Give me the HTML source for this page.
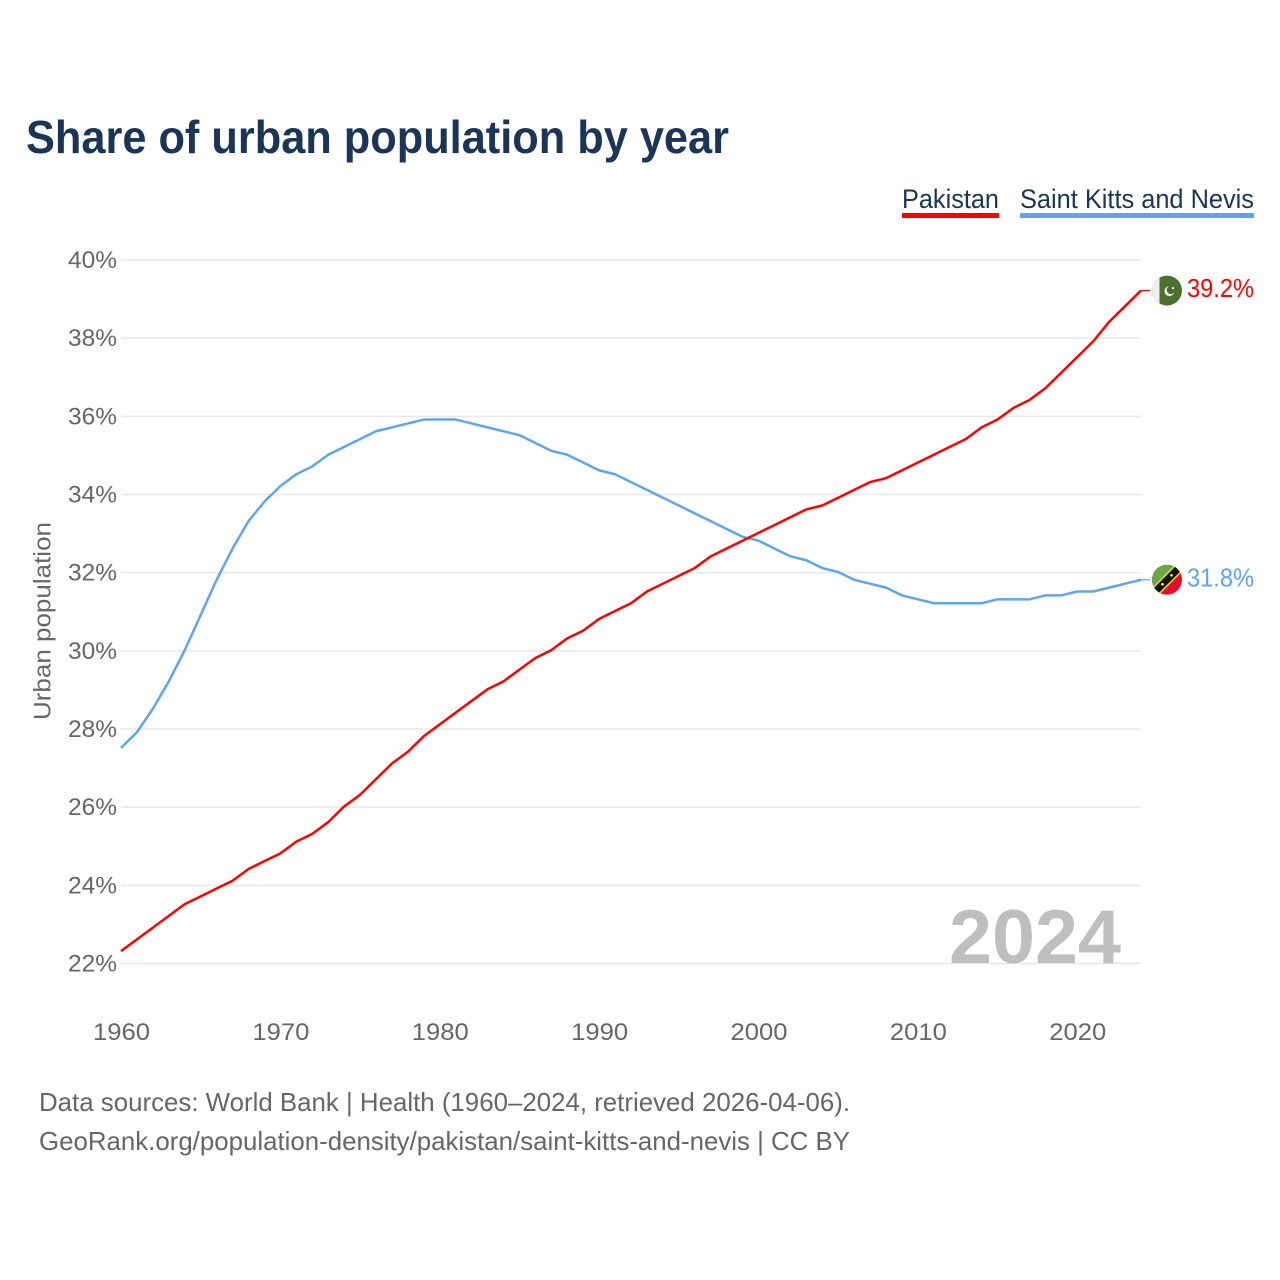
<!DOCTYPE html>
<html lang="en">
<head>
<meta charset="utf-8">
<title>Share of urban population by year</title>
<style>
html,body{margin:0;padding:0;background:#fff;}
svg{display:block;font-family:"Liberation Sans",sans-serif;}
</style>
</head>
<body>
<svg id="chart" width="1280" height="1280" viewBox="0 0 1280 1280" xmlns="http://www.w3.org/2000/svg">
  <defs>
    <clipPath id="flag-clip"><circle cx="0" cy="0" r="15"/></clipPath>
  </defs>
  <rect width="1280" height="1280" fill="#fff"/>
  <text x="26" y="153" font-size="46" font-weight="700" fill="#1a3556" textLength="703" lengthAdjust="spacingAndGlyphs">Share of urban population by year</text>

  <g>
    <g>
      <text x="902" y="208" font-size="27" fill="#1a3556" textLength="97" lengthAdjust="spacingAndGlyphs">Pakistan</text>
      <rect x="902" y="213" width="97" height="5" fill="#ff0000"/>
    </g>
    <g>
      <text x="1020" y="208" font-size="27" fill="#1a3556" textLength="234" lengthAdjust="spacingAndGlyphs">Saint Kitts and Nevis</text>
      <rect x="1020" y="213" width="234" height="5" fill="#5fa5ee"/>
    </g>
  </g>

  <g id="grid"></g>
  <g id="y-labels"></g>
  <g id="x-labels"></g>
  <text transform="translate(50.5 720) rotate(-90)" font-size="24" fill="#666" textLength="198" lengthAdjust="spacingAndGlyphs">Urban population</text>

  <text id="year-watermark" x="949" y="963" font-size="76" font-weight="700" fill="#bfbfbf" textLength="172" lengthAdjust="spacingAndGlyphs">2024</text>

  <g id="series"></g>

  <g id="flag-pakistan">
    <g clip-path="url(#flag-clip)">
      <rect x="-15" y="-15" width="30" height="30" fill="#4c7030"/>
      <rect x="-15" y="-15" width="7.5" height="30" fill="#eeeeee"/>
      <circle cx="2.5" cy="0.5" r="5" fill="#f4f4f4"/>
      <circle cx="4" cy="-0.7" r="4.3" fill="#4c7030"/>
      <circle cx="6" cy="-2.5" r="1.1" fill="#f4f4f4"/>
    </g>
  </g>
  <g id="flag-skn">
    <g clip-path="url(#flag-clip)">
      <rect x="-15" y="-15" width="30" height="30" fill="#df0f32"/>
      <polygon points="-15,-15 15,-15 -15,15" fill="#6ca544"/>
      <line x1="-18" y1="18" x2="18" y2="-18" stroke="#f8d90f" stroke-width="10"/>
      <line x1="-18" y1="18" x2="18" y2="-18" stroke="#111" stroke-width="7"/>
      <circle cx="-4.5" cy="4.5" r="1.3" fill="#fff"/>
      <circle cx="4.5" cy="-4.5" r="1.3" fill="#fff"/>
    </g>
  </g>
  <g id="end-labels"></g>

  <g>
    <text x="39" y="1111" font-size="26" fill="#666" textLength="811" lengthAdjust="spacingAndGlyphs">Data sources: World Bank | Health (1960–2024, retrieved 2026-04-06).</text>
    <text x="39" y="1150" font-size="26" fill="#666" textLength="811" lengthAdjust="spacingAndGlyphs">GeoRank.org/population-density/pakistan/saint-kitts-and-nevis | CC BY</text>
  </g>
</svg>

<script>
const years = [1960,1961,1962,1963,1964,1965,1966,1967,1968,1969,1970,1971,1972,1973,1974,1975,1976,1977,1978,1979,1980,1981,1982,1983,1984,1985,1986,1987,1988,1989,1990,1991,1992,1993,1994,1995,1996,1997,1998,1999,2000,2001,2002,2003,2004,2005,2006,2007,2008,2009,2010,2011,2012,2013,2014,2015,2016,2017,2018,2019,2020,2021,2022,2023,2024];
const pakistanValues = [22.3,22.6,22.9,23.2,23.5,23.7,23.9,24.1,24.4,24.6,24.8,25.1,25.3,25.6,26.0,26.3,26.7,27.1,27.4,27.8,28.1,28.4,28.7,29.0,29.2,29.5,29.8,30.0,30.3,30.5,30.8,31.0,31.2,31.5,31.7,31.9,32.1,32.4,32.6,32.8,33.0,33.2,33.4,33.6,33.7,33.9,34.1,34.3,34.4,34.6,34.8,35.0,35.2,35.4,35.7,35.9,36.2,36.4,36.7,37.1,37.5,37.9,38.4,38.8,39.2];
const saintKittsValues = [27.5,27.9,28.5,29.2,30.0,30.9,31.8,32.6,33.3,33.8,34.2,34.5,34.7,35.0,35.2,35.4,35.6,35.7,35.8,35.9,35.9,35.9,35.8,35.7,35.6,35.5,35.3,35.1,35.0,34.8,34.6,34.5,34.3,34.1,33.9,33.7,33.5,33.3,33.1,32.9,32.8,32.6,32.4,32.3,32.1,32.0,31.8,31.7,31.6,31.4,31.3,31.2,31.2,31.2,31.2,31.3,31.3,31.3,31.4,31.4,31.5,31.5,31.6,31.7,31.8];
const yTicks = [22,24,26,28,30,32,34,36,38,40];
const xTicks = [1960,1970,1980,1990,2000,2010,2020];

const NS = 'http://www.w3.org/2000/svg';
const xScale = function (year) { return 121 + (year - 1960) * (1020 / 64); };
const yScale = function (value) { return 963.5 - (value - 22) * (703.5 / 18); };
const markY = function (value) { return yScale(value) - 0.7; };

function make(tag, parent) {
  const el = document.createElementNS(NS, tag);
  parent.appendChild(el);
  return el;
}

const grid = document.getElementById('grid');
const yLabels = document.getElementById('y-labels');
yTicks.forEach(function (tick) {
  const line = make('line', grid);
  
  
  line.setAttribute('x1', 121);
  line.setAttribute('x2', 1141);
  line.setAttribute('y1', yScale(tick));
  line.setAttribute('y2', yScale(tick));
  line.setAttribute('stroke', '#e8e8e8');
  line.setAttribute('stroke-width', '1.5');

  const label = make('text', yLabels);
  
  
  label.setAttribute('x', 68);
  label.setAttribute('y', yScale(tick) + 8);
  label.setAttribute('font-size', '24');
  label.setAttribute('fill', '#666');
  label.setAttribute('textLength', '49');
  label.setAttribute('lengthAdjust', 'spacingAndGlyphs');
  label.textContent = tick + '%';
});

const xLabels = document.getElementById('x-labels');
xTicks.forEach(function (tick) {
  const label = make('text', xLabels);
  
  
  label.setAttribute('x', xScale(tick) - 28);
  label.setAttribute('y', 1040);
  label.setAttribute('font-size', '24');
  label.setAttribute('fill', '#666');
  label.setAttribute('textLength', '57');
  label.setAttribute('lengthAdjust', 'spacingAndGlyphs');
  label.textContent = tick;
});

const seriesGroup = document.getElementById('series');
const endLabels = document.getElementById('end-labels');

function drawSeries(values, color, lineName, connectorName, labelName, flagId) {
  const points = values.map(function (v, i) {
    return xScale(years[i]).toFixed(2) + ',' + markY(v).toFixed(2);
  }).join(' ');
  const line = make('polyline', seriesGroup);
  
  
  line.setAttribute('points', points);
  line.setAttribute('fill', 'none');
  line.setAttribute('stroke', color);
  line.setAttribute('stroke-width', '2.5');
  line.setAttribute('stroke-linejoin', 'round');

  const lastValue = values[values.length - 1];
  const lastX = xScale(years[years.length - 1]);
  const lastY = markY(lastValue);

  const connector = make('line', seriesGroup);
  
  
  connector.setAttribute('x1', lastX);
  connector.setAttribute('x2', lastX + 9);
  connector.setAttribute('y1', lastY);
  connector.setAttribute('y2', lastY);
  connector.setAttribute('stroke', color);
  connector.setAttribute('stroke-width', '1.2');

  document.getElementById(flagId).setAttribute('transform', 'translate(' + (lastX + 26) + ' ' + lastY + ')');

  const label = make('text', endLabels);
  
  
  label.setAttribute('x', lastX + 46);
  label.setAttribute('y', lastY + 6.5);
  label.setAttribute('font-size', '26');
  label.setAttribute('fill', color);
  label.setAttribute('textLength', '67');
  label.setAttribute('lengthAdjust', 'spacingAndGlyphs');
  label.textContent = lastValue.toFixed(1) + '%';
}

drawSeries(saintKittsValues, '#5fa5ee', 'line-saint-kitts-and-nevis', 'connector-saint-kitts-and-nevis', 'end-label-saint-kitts-and-nevis', 'flag-skn');
drawSeries(pakistanValues, '#ff0000', 'line-pakistan', 'connector-pakistan', 'end-label-pakistan', 'flag-pakistan');
</script>
</body>
</html>
